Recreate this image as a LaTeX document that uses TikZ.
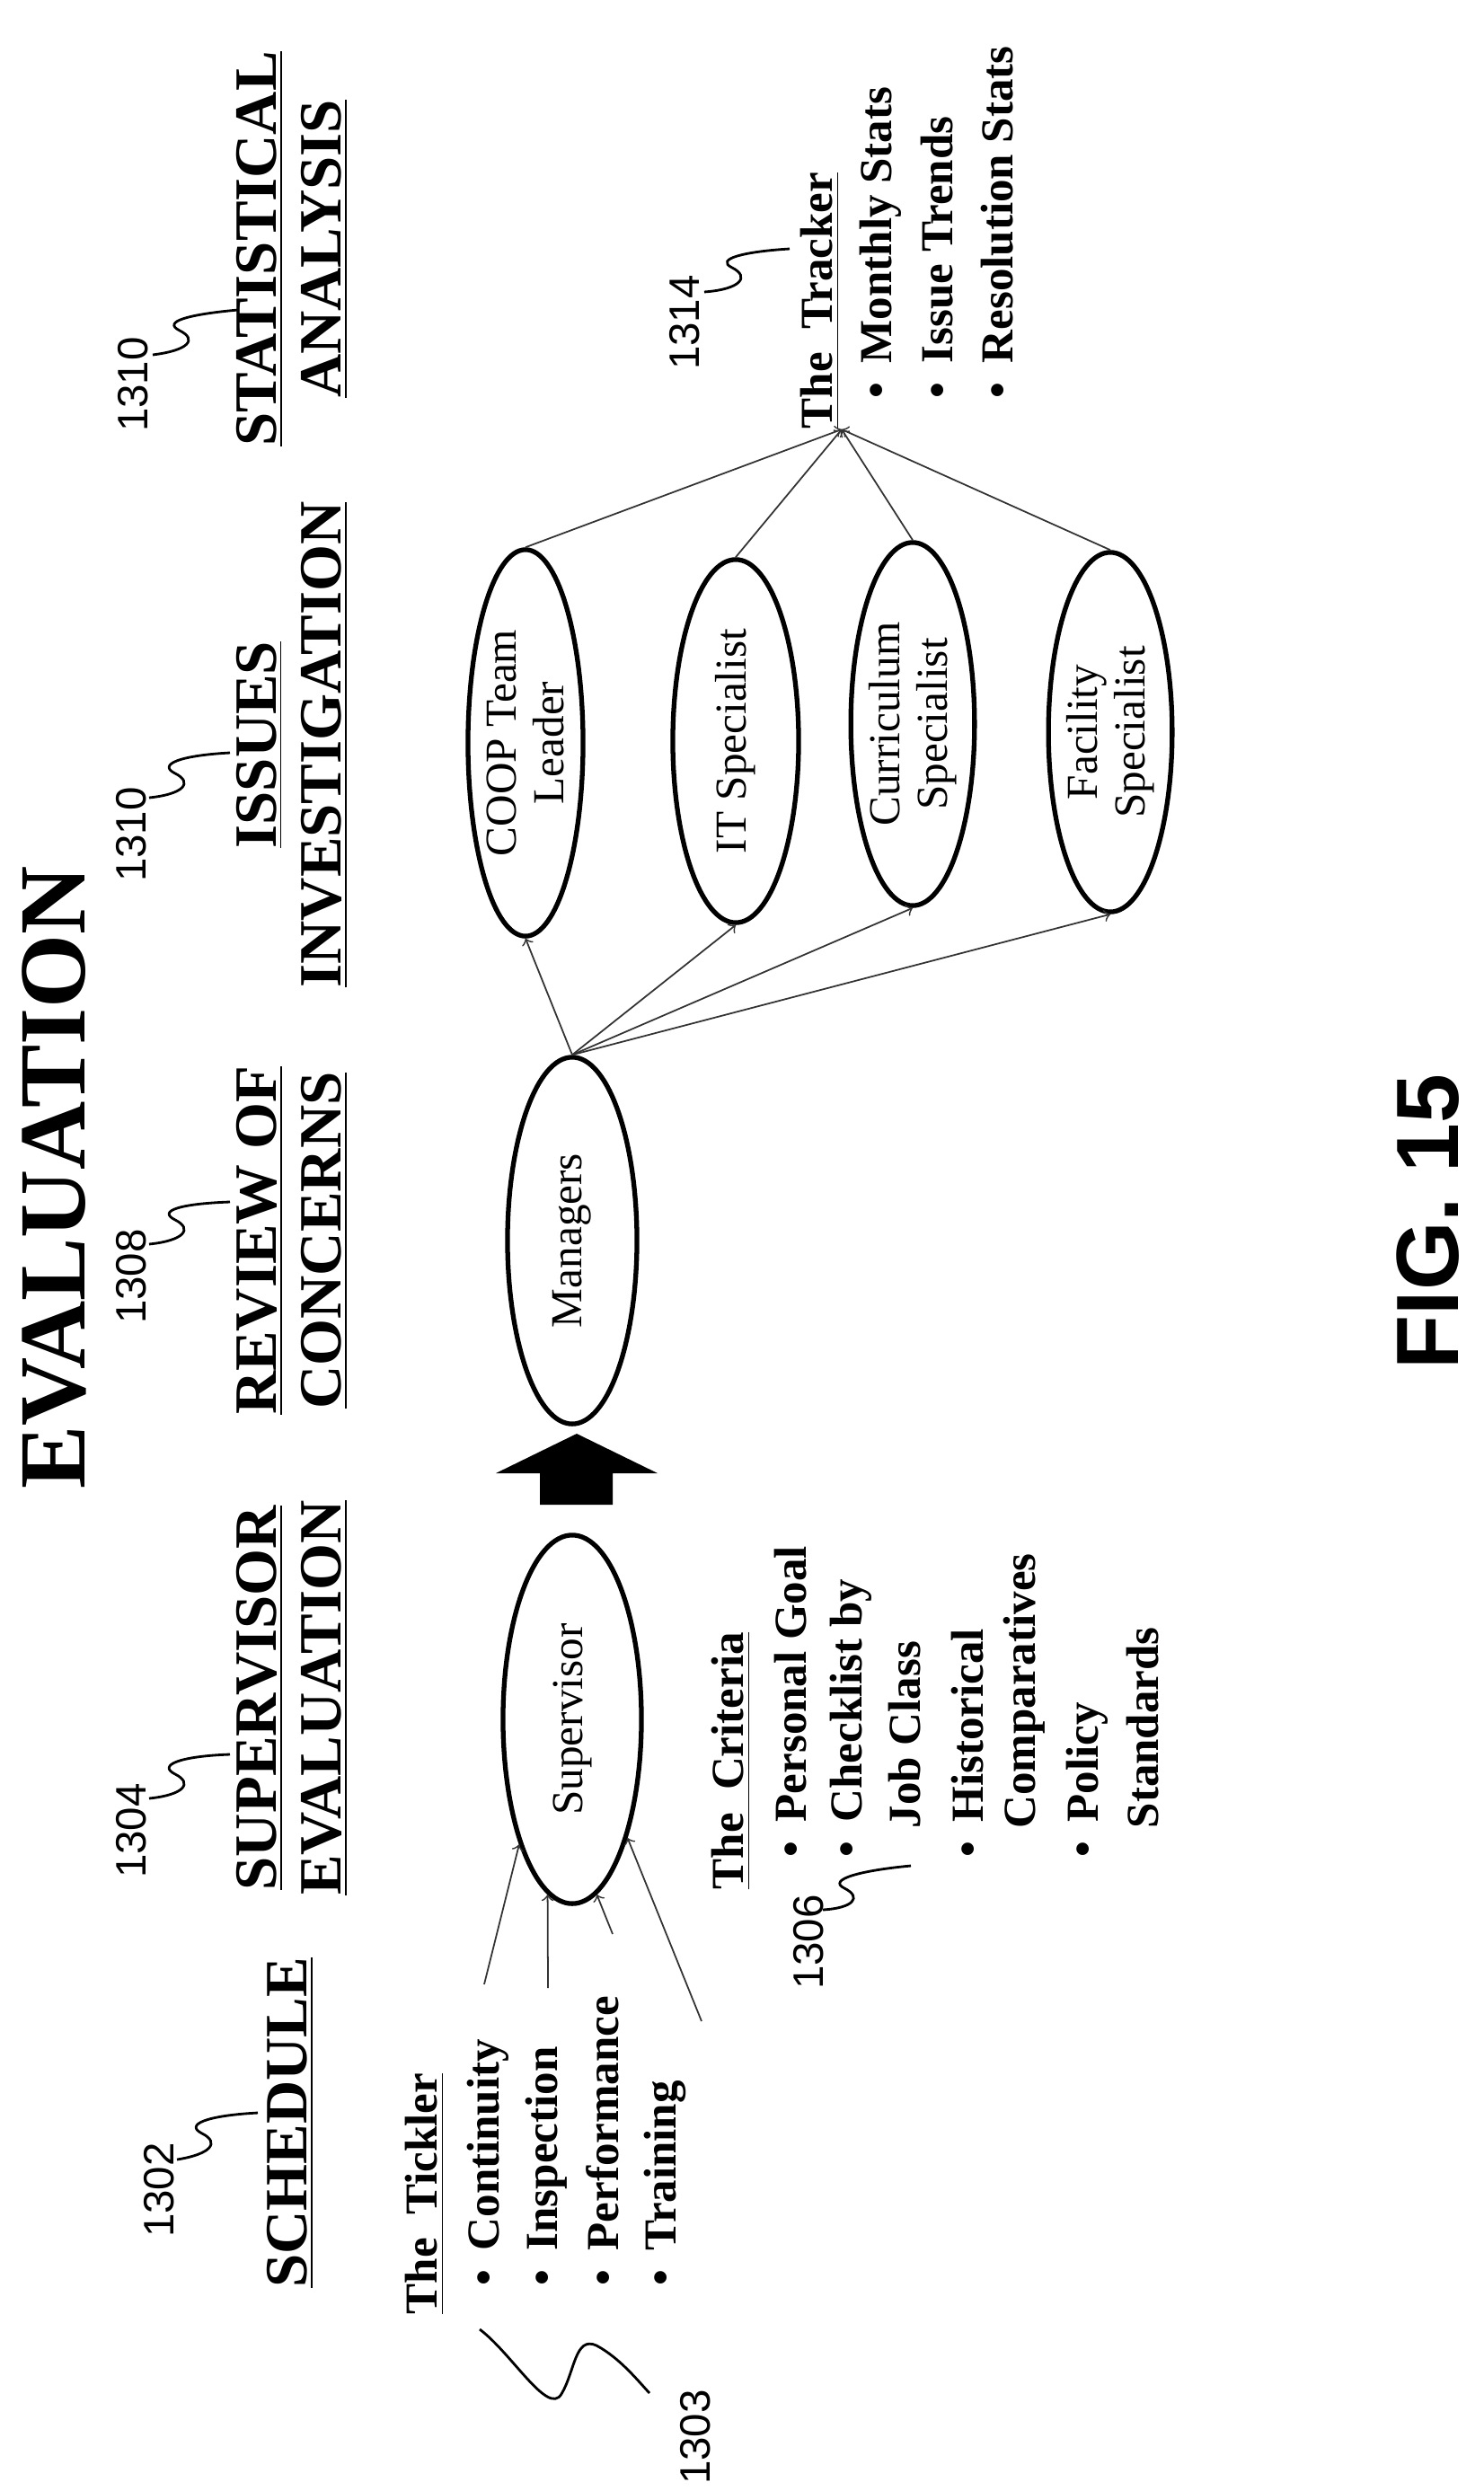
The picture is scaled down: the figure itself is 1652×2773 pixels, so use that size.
\documentclass[tikz,border=0pt]{standalone}
\usepackage{fontspec}
\setmainfont{Liberation Serif}
\newfontfamily\numfont{Liberation Sans}
\usetikzlibrary{shapes.geometric}
\begin{document}
\begin{tikzpicture}[x=0.01cm,y=-0.01cm,
  ell/.style={ellipse,draw,line width=1.5pt,rotate=90,inner sep=0pt,align=center,font=\fontsize{14}{15}\selectfont},
  head/.style={rotate=90,align=center,font=\fontsize{19}{20.5}\selectfont\bfseries},
  item/.style={rotate=90,anchor=west,inner sep=0pt,font=\fontsize{14.5}{16}\selectfont\bfseries},
  num/.style={rotate=90,font=\numfont\fontsize{13.5}{14}\selectfont},
  conn/.style={->,line width=0.5pt,draw=black!80},
  sq/.style={line width=0.8pt}]
\useasboundingbox (0,0) rectangle (1652,2773);

\node[rotate=90,font=\fontsize{30}{32}\selectfont\bfseries] (title) at (60,1311) {EVALUATION};

% headings
\node[head] (h1) at (323,2363) {\underline{SCHEDULE}};
\node[head] (h2) at (325,1890) {\underline{SUPERVISOR}\\\underline{EVALUATION}};
\node[head] (h3) at (325,1381) {\underline{REVIEW OF}\\\underline{CONCERNS}};
\node[head] (h4) at (325,829) {\underline{ISSUES}\\\underline{INVESTIGATION}};
\node[head] (h5) at (325,277) {\underline{STATISTICAL}\\\underline{ANALYSIS}};

% numbers
\node[num] (n1302) at (177,2438) {1302};
\node[num] (n1304) at (146,2038) {1304};
\node[num] (n1308) at (146,1421) {1308};
\node[num] (n1310a) at (146,929) {1310};
\node[num] (n1310b) at (148,428) {1310};
\node[num] (n1314) at (762,359) {1314};
\node[num] (n1306) at (900,2162) {1306};
\node[num] (n1303) at (774,2713) {1303};

% squiggles
\draw[sq] (197,2404) .. controls (235,2398) and (245,2385) .. (225,2375) .. controls (205,2365) and (230,2355) .. (287,2352);
\draw[sq] (166,2002) .. controls (205,1998) and (215,1985) .. (195,1975) .. controls (175,1965) and (200,1955) .. (256,1953);
\draw[sq] (166,1385) .. controls (205,1381) and (215,1368) .. (195,1358) .. controls (175,1348) and (200,1340) .. (256,1338);
\draw[sq] (166,888) .. controls (205,884) and (215,871) .. (195,861) .. controls (175,851) and (200,841) .. (256,838);
\draw[sq] (170,395) .. controls (210,390) and (220,378) .. (200,368) .. controls (180,358) and (210,350) .. (265,345);
\draw[sq] (784,325) .. controls (825,322) and (835,308) .. (815,298) .. controls (795,288) and (830,280) .. (879,277);
\draw[sq] (916,2126) .. controls (950,2124) and (960,2112) .. (940,2102) .. controls (920,2092) and (960,2082) .. (1014,2077);
\draw[sq] (534,2593) .. controls (570,2620) and (610,2690) .. (625,2665) .. controls (640,2640) and (640,2600) .. (664,2611) .. controls (690,2625) and (710,2650) .. (723,2664);

% ellipses
\node[ell,minimum width=4.10cm,minimum height=1.54cm] (sup) at (637,1914) {Supervisor};
\node[ell,minimum width=4.08cm,minimum height=1.44cm] (mgr) at (637,1381) {Managers};
\node[ell,minimum width=4.30cm,minimum height=1.28cm] (coop) at (585,827) {COOP Team\\Leader};
\node[ell,minimum width=4.04cm,minimum height=1.40cm] (it) at (819,825) {IT Specialist};
\node[ell,minimum width=4.04cm,minimum height=1.24cm] (cur) at (1016,806) {Curriculum\\Specialist};
\node[ell,minimum width=4.00cm,minimum height=1.30cm] (fac) at (1236,815) {Facility\\Specialist};

% big arrow
\fill (642,1596) -- (732,1640) -- (682,1640) -- (682,1675) -- (601,1675) -- (601,1640) -- (552,1640) -- cycle;

% tickler
\node[item] (tick) at (473,2577) {\underline{The\ \ Tickler}};
\node[item] (t1) at (543,2545) {\textbullet\ \,Continuity};
\node[item] (t2) at (608,2545) {\textbullet\ \,Inspection};
\node[item] (t3) at (671,2545) {\textbullet\ \,Performance};
\node[item] (t4) at (740,2545) {\textbullet\ \,Training};
\coordinate (a1) at (539,2209);
\coordinate (a2) at (610,2213);
\coordinate (a3) at (682,2153);
\coordinate (a4) at (781,2250);
\draw[conn] (a1) -- (sup.157);
\draw[conn] (a2) -- (sup.172);
\draw[conn] (a3) -- (sup.188);
\draw[conn] (a4) -- (sup.205);

% criteria
\node[item] (crit) at (814,2104) {\underline{The\ \ Criteria}};
\node[item] (c1) at (880,2068) {\textbullet\ \,Personal Goal};
\node[item] (c2) at (947,2068) {\textbullet\ \,Checklist by};
\node[item] (c3) at (1007,2036) {Job Class};
\node[item] (c4) at (1077,2068) {\textbullet\ \,Historical};
\node[item] (c5) at (1140,2036) {Comparatives};
\node[item] (c6) at (1210,2068) {\textbullet\ \,Policy};
\node[item] (c7) at (1272,2036) {Standards};

% tracker
\node[item] (trk) at (913,478) {\underline{The\ \ Tracker}};
\node[item] (k1) at (980,444) {\textbullet\ \,Monthly Stats};
\node[item] (k2) at (1043,444) {\textbullet\ \,Issue Trends};
\node[item] (k3) at (1110,444) {\textbullet\ \,Resolution Stats};
\coordinate (tr) at (937,478);

% connectors
\draw[conn] (mgr.east) -- (coop.west);
\draw[conn] (mgr.east) -- (it.west);
\draw[conn] (mgr.east) -- (cur.west);
\draw[conn] (mgr.east) -- (fac.west);
\draw[conn] (coop.east) -- (tr);
\draw[conn] (it.east) -- (tr);
\draw[conn] (cur.east) -- (tr);
\draw[conn] (fac.east) -- (tr);

\node[rotate=90,font=\numfont\fontsize{28}{30}\selectfont\bfseries] (fig) at (1590,1360) {FIG. 15};
\end{tikzpicture}
\end{document}
